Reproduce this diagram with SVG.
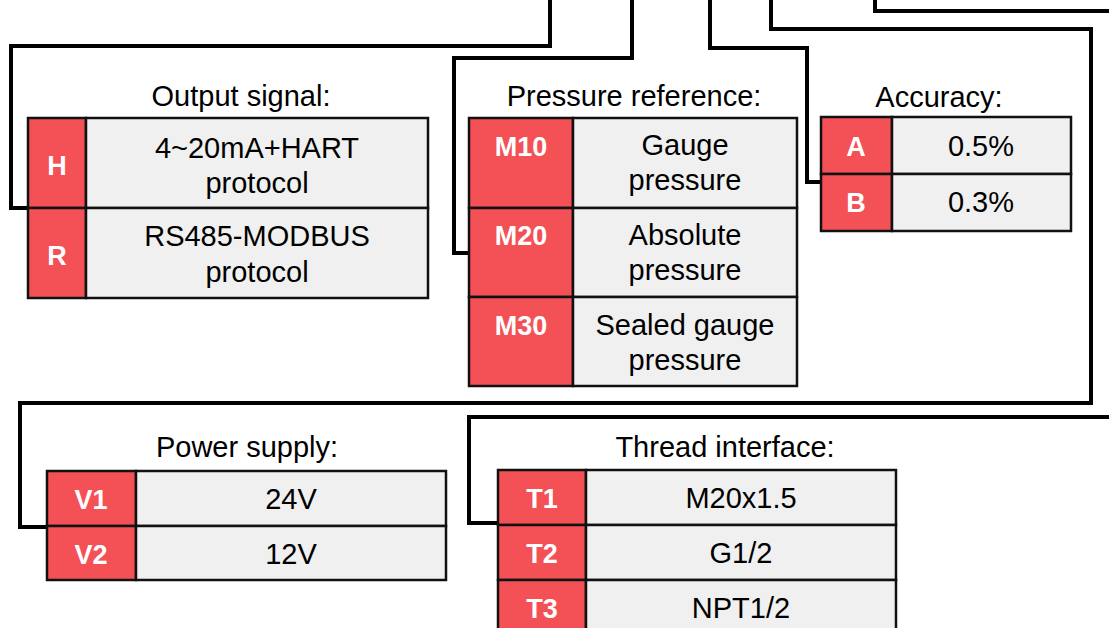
<svg xmlns="http://www.w3.org/2000/svg" width="1109" height="628" viewBox="0 0 1109 628">
<style>
.conn{fill:none;stroke:#000;stroke-width:4;stroke-linejoin:miter}
.code{fill:#F45156;stroke:#111;stroke-width:2.5}
.cell{fill:#F0F0F0;stroke:#111;stroke-width:2.5}
.t{font-family:"Liberation Sans",Arial,sans-serif;font-size:29px;fill:#000;text-anchor:middle}
.c{font-family:"Liberation Sans",Arial,sans-serif;font-size:27px;font-weight:bold;fill:#fff;text-anchor:middle}
</style>
<rect width="1109" height="628" fill="#fff"/>
<g id="connectors">
<polyline class="conn" points="550,0 550,46 11,46 11,208 30,208"/>
<polyline class="conn" points="632,0 632,58 454,58 454,253 470,253"/>
<polyline class="conn" points="710,0 710,48 807,48 807,182 822,182"/>
<polyline class="conn" points="771,0 771,29 1091,29 1091,403 20,403 20,527 48,527"/>
<polyline class="conn" points="875,0 875,11 1109,11"/>
<polyline class="conn" points="1109,417 469,417 469,523 499,523"/>
</g>
<g id="output-signal">
<text class="t" x="241" y="106">Output signal:</text>
<rect class="code" x="28" y="118" width="58" height="90"/>
<rect class="cell" x="86" y="118" width="342" height="90"/>
<rect class="code" x="28" y="208" width="58" height="90"/>
<rect class="cell" x="86" y="208" width="342" height="90"/>
<text class="c" x="57" y="175">H</text>
<text class="c" x="57" y="265">R</text>
<text class="t" x="257" y="158">4~20mA+HART</text>
<text class="t" x="257" y="193">protocol</text>
<text class="t" x="257" y="246">RS485-MODBUS</text>
<text class="t" x="257" y="282">protocol</text>
</g>
<g id="pressure-reference">
<text class="t" x="634" y="106">Pressure reference:</text>
<rect class="code" x="469" y="118" width="104" height="90"/>
<rect class="cell" x="573" y="118" width="224" height="90"/>
<rect class="code" x="469" y="208" width="104" height="89"/>
<rect class="cell" x="573" y="208" width="224" height="89"/>
<rect class="code" x="469" y="297" width="104" height="89"/>
<rect class="cell" x="573" y="297" width="224" height="89"/>
<text class="c" x="521" y="156">M10</text>
<text class="c" x="521" y="245">M20</text>
<text class="c" x="521" y="335">M30</text>
<text class="t" x="685" y="155">Gauge</text>
<text class="t" x="685" y="190">pressure</text>
<text class="t" x="685" y="245">Absolute</text>
<text class="t" x="685" y="280">pressure</text>
<text class="t" x="685" y="335">Sealed gauge</text>
<text class="t" x="685" y="370">pressure</text>
</g>
<g id="accuracy">
<text class="t" x="939" y="107">Accuracy:</text>
<rect class="code" x="821" y="117" width="71" height="57"/>
<rect class="cell" x="892" y="117" width="179" height="57"/>
<rect class="code" x="821" y="174" width="71" height="57"/>
<rect class="cell" x="892" y="174" width="179" height="57"/>
<text class="c" x="856" y="156">A</text>
<text class="c" x="856" y="212">B</text>
<text class="t" x="981" y="156">0.5%</text>
<text class="t" x="981" y="212">0.3%</text>
</g>
<g id="power-supply">
<text class="t" x="247" y="457">Power supply:</text>
<rect class="code" x="47" y="471" width="89" height="55"/>
<rect class="cell" x="136" y="471" width="310" height="55"/>
<rect class="code" x="47" y="526" width="89" height="54"/>
<rect class="cell" x="136" y="526" width="310" height="54"/>
<text class="c" x="91" y="509">V1</text>
<text class="c" x="91" y="564">V2</text>
<text class="t" x="291" y="509">24V</text>
<text class="t" x="291" y="564">12V</text>
</g>
<g id="thread-interface">
<text class="t" x="725" y="457">Thread interface:</text>
<rect class="code" x="498" y="470" width="88" height="55"/>
<rect class="cell" x="586" y="470" width="310" height="55"/>
<rect class="code" x="498" y="525" width="88" height="55"/>
<rect class="cell" x="586" y="525" width="310" height="55"/>
<rect class="code" x="498" y="580" width="88" height="55"/>
<rect class="cell" x="586" y="580" width="310" height="55"/>
<text class="c" x="542" y="508">T1</text>
<text class="c" x="542" y="563">T2</text>
<text class="c" x="542" y="618">T3</text>
<text class="t" x="741" y="508">M20x1.5</text>
<text class="t" x="741" y="563">G1/2</text>
<text class="t" x="741" y="618">NPT1/2</text>
</g>
</svg>
